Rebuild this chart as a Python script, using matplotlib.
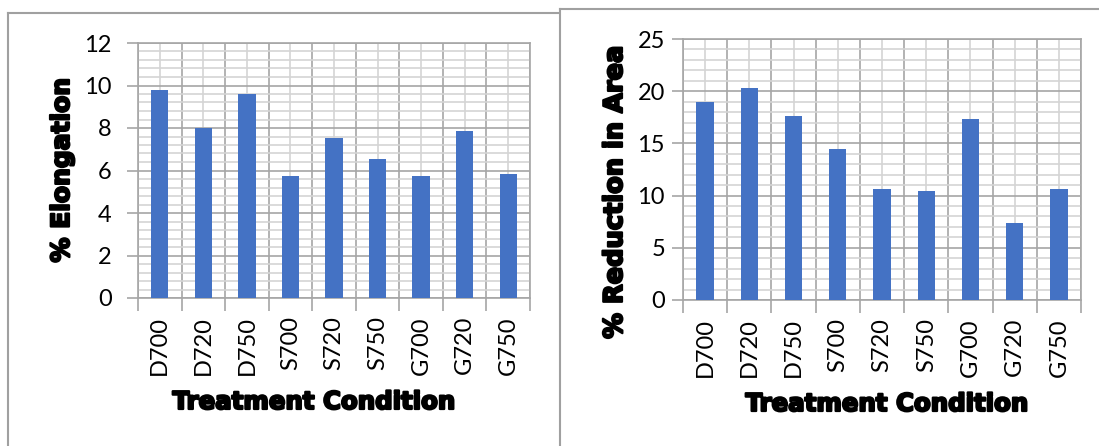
import numpy as np
import matplotlib
matplotlib.use("Agg")
from matplotlib import pyplot as plt
from matplotlib.lines import Line2D
import matplotlib.patheffects as pe

conditions = ["D700", "D720", "D750", "S700", "S720", "S750", "G700", "G720", "G750"]
elongation = [9.8, 8.0, 9.6, 5.75, 7.55, 6.55, 5.75, 7.85, 5.85]
reduction_area = [19.0, 20.3, 17.6, 14.5, 10.6, 10.4, 17.3, 7.4, 10.6]

W, H = 1099, 446
BAR_COLOR = "#4472C4"
MAJOR_GRID = "#a6a6a6"
MINOR_GRID = "#d4d4d4"
TICK_FONT = "Lato"
TITLE_FONT = "DejaVu Sans"
# thicken the bold title glyphs a bit
HEAVY = [pe.withStroke(linewidth=1.6, foreground="black")]

fig = plt.figure(figsize=(W / 100, H / 100), dpi=100)


def px_axes(x0, y0, x1, y1):
    # axes from pixel box (top-left origin)
    return fig.add_axes([x0 / W, 1 - y1 / H, (x1 - x0) / W, (y1 - y0) / H])


def px_text(x, y, s, **kw):
    fig.text(x / W, 1 - y / H, s, fontweight="bold", family=TITLE_FONT,
             path_effects=HEAVY, ha="center", va="center", **kw)


def panel(ax, values, ymax, ystep, yminor, width, ypad):
    x = np.arange(len(conditions))
    ax.bar(x, values, width=width, color=BAR_COLOR, zorder=3)
    ax.set_xlim(-0.5, len(conditions) - 0.5)
    ax.set_ylim(0, ymax)

    ax.set_xticks(np.arange(-0.5, len(conditions), 1))
    ax.set_xticklabels([])
    ax.set_xticks(x, minor=True)
    ax.set_xticklabels(conditions, minor=True, rotation=90,
                       fontsize=17, family=TICK_FONT)
    ax.set_yticks(np.arange(0, ymax + 0.01, ystep))
    ax.set_yticks(np.arange(0, ymax + 0.01, yminor), minor=True)
    ax.tick_params(axis="y", which="major", labelsize=17, length=8,
                   width=1.2, color=MAJOR_GRID, pad=ypad)
    ax.tick_params(axis="y", which="minor", length=0)
    ax.tick_params(axis="x", which="major", length=9, width=1.2,
                   color=MAJOR_GRID)
    ax.tick_params(axis="x", which="minor", length=0, pad=13)
    for lab in ax.get_yticklabels():
        lab.set_family(TICK_FONT)

    ax.grid(which="major", color=MAJOR_GRID, linewidth=1.2, zorder=1)
    ax.grid(which="minor", color=MINOR_GRID, linewidth=1.2, zorder=0)
    ax.set_axisbelow(True)
    for sp in ax.spines.values():
        sp.set_color(MAJOR_GRID)
        sp.set_linewidth(1.2)


# left chart: elongation
ax1 = px_axes(138, 43, 530, 298)
panel(ax1, elongation, 12, 2, 0.4, 0.4, 11)
px_text(62, 170, "% Elongation", rotation=90, fontsize=18)
px_text(313, 402, "Treatment Condition", fontsize=17.6)

# right chart: reduction in area
ax2 = px_axes(683, 39, 1081, 300)
panel(ax2, reduction_area, 25, 5, 1, 0.39, 5)
px_text(615, 192, "% Reduction in Area", rotation=90, fontsize=18.5)
px_text(886, 404, "Treatment Condition", fontsize=17.6)

# chart frames
frames = [
    [(8, 13), (559, 13)], [(8, 13), (8, 446)],
    [(560, 9), (1099, 9)], [(560, 9), (560, 446)],
]
for (xa, ya), (xb, yb) in frames:
    fig.add_artist(Line2D([xa / W, xb / W], [1 - ya / H, 1 - yb / H],
                          color="#a0a0a0", linewidth=1.5))

fig.savefig("out.png", dpi=100)
